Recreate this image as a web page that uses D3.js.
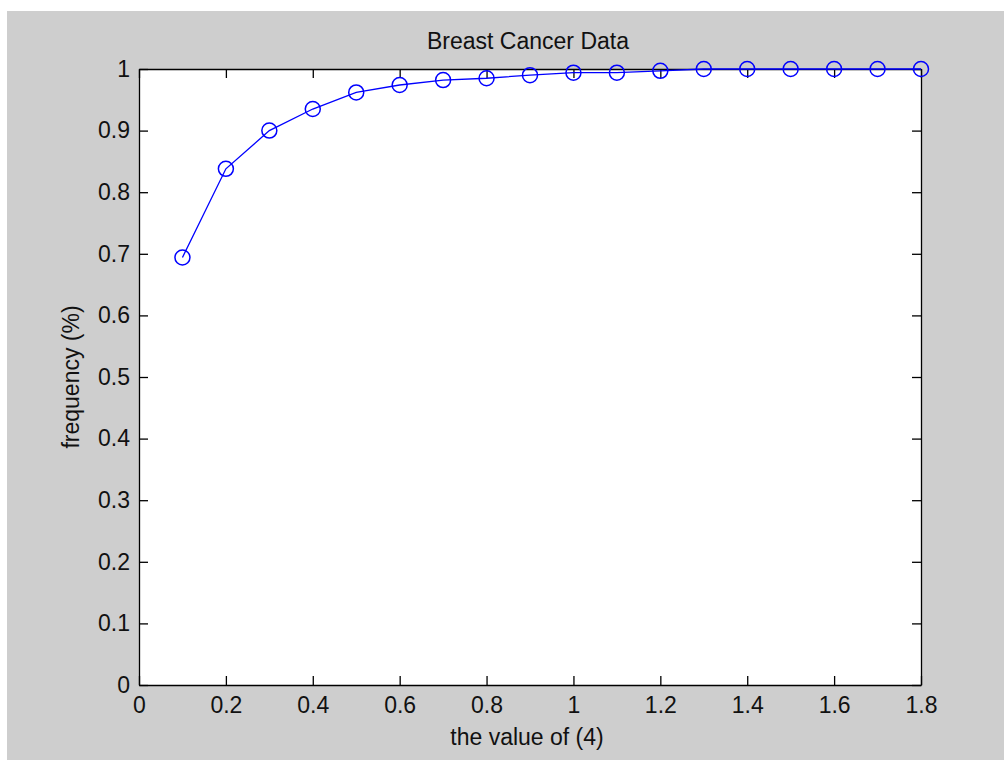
<!DOCTYPE html>
<html>
<head>
<meta charset="utf-8">
<script src="https://cdnjs.cloudflare.com/ajax/libs/d3/7.8.5/d3.min.js"></script>
<style>
  body { margin: 0; background: #fff; }
  text { font-family: "Liberation Sans", Arial, Helvetica, sans-serif; fill: #111; }
</style>
</head>
<body>
<script>
// data
var xValues = [0.1, 0.2, 0.3, 0.4, 0.5, 0.6, 0.7, 0.8, 0.9, 1.0, 1.1, 1.2, 1.3, 1.4, 1.5, 1.6, 1.7, 1.8];
var freqValues = [0.694, 0.838, 0.900, 0.935, 0.962, 0.974, 0.982, 0.985, 0.990, 0.994, 0.994, 0.997, 1.0, 1.0, 1.0, 1.0, 1.0, 1.0];
var xTicks = [0, 0.2, 0.4, 0.6, 0.8, 1, 1.2, 1.4, 1.6, 1.8];
var yTicks = [0, 0.1, 0.2, 0.3, 0.4, 0.5, 0.6, 0.7, 0.8, 0.9, 1];
var titleText = "Breast Cancer Data";
var xLabelText = "the value of (4)";
var yLabelText = "frequency (%)";

var outerWidth = 1004, outerHeight = 760;
var plot = {left: 139, right: 921, top: 69, bottom: 685};
var tickLen = 9;
var fontSize = 23;

var xScale = d3.scaleLinear().domain([0, 1.8]).range([plot.left, plot.right]);
var yScale = d3.scaleLinear().domain([0, 1]).range([plot.bottom, plot.top]);

var svg = d3.select("body").append("svg")
    .attr("width", outerWidth)
    .attr("height", outerHeight);

// figure background (grey window)
svg.append("rect")
    .attr("x", 7)
    .attr("y", 11)
    .attr("width", outerWidth - 7)
    .attr("height", outerHeight - 11)
    .attr("fill", "#cecece");

// axes area
svg.append("rect")
    .attr("x", plot.left)
    .attr("y", plot.top)
    .attr("width", plot.right - plot.left)
    .attr("height", plot.bottom - plot.top)
    .attr("fill", "#fff");

var fmt = function(d) { return d3.format("")(+d.toFixed(1)); };

// bottom and top axes, ticks pointing inward
var xAxisBottom = svg.append("g")
    .attr("transform", "translate(0," + plot.bottom + ")")
    .call(d3.axisBottom(xScale).tickValues(xTicks).tickSizeInner(-tickLen).tickSizeOuter(0).tickPadding(12).tickFormat(fmt));
var xAxisTop = svg.append("g")
    .attr("transform", "translate(0," + plot.top + ")")
    .call(d3.axisTop(xScale).tickValues(xTicks).tickSizeInner(-tickLen).tickSizeOuter(0).tickFormat(""));

// left and right axes
var yAxisLeft = svg.append("g")
    .attr("transform", "translate(" + plot.left + ",0)")
    .call(d3.axisLeft(yScale).tickValues(yTicks).tickSizeInner(-tickLen).tickSizeOuter(0).tickPadding(9).tickFormat(fmt));
var yAxisRight = svg.append("g")
    .attr("transform", "translate(" + plot.right + ",0)")
    .call(d3.axisRight(yScale).tickValues(yTicks).tickSizeInner(-tickLen).tickSizeOuter(0).tickFormat(""));

svg.selectAll(".domain").attr("stroke", "#000").attr("stroke-width", 1.3);
svg.selectAll(".tick line").attr("stroke", "#000").attr("stroke-width", 1.3);
svg.selectAll(".tick text")
    .attr("font-size", fontSize + "px")
    .attr("fill", "#111")
    .style("font-family", "'Liberation Sans', Arial, sans-serif");

// title and axis labels
svg.append("text")
    .attr("x", (plot.left + plot.right) / 2 - 2)
    .attr("y", 49)
    .attr("text-anchor", "middle")
    .attr("font-size", fontSize + "px")
    .text(titleText);

svg.append("text")
    .attr("x", (plot.left + plot.right) / 2 - 3)
    .attr("y", 745)
    .attr("text-anchor", "middle")
    .attr("font-size", fontSize + "px")
    .text(xLabelText);

svg.append("text")
    .attr("transform", "translate(79," + ((plot.top + plot.bottom) / 2) + ") rotate(-90)")
    .attr("text-anchor", "middle")
    .attr("font-size", fontSize + "px")
    .text(yLabelText);

// data line + circle markers
var points = xValues.map(function(x, i) { return {x: x, y: freqValues[i]}; });

var line = d3.line()
    .x(function(d) { return xScale(d.x); })
    .y(function(d) { return yScale(d.y); });

svg.append("path")
    .datum(points)
    .attr("d", line)
    .attr("fill", "none")
    .attr("stroke", "#0000ff")
    .attr("stroke-width", 1.3);

svg.selectAll(".marker")
    .data(points)
    .enter()
    .append("circle")
    .attr("class", "marker")
    .attr("cx", function(d) { return xScale(d.x); })
    .attr("cy", function(d) { return yScale(d.y); })
    .attr("r", 7.5)
    .attr("fill", "none")
    .attr("stroke", "#0000ff")
    .attr("stroke-width", 1.5);
</script>
</body>
</html>
